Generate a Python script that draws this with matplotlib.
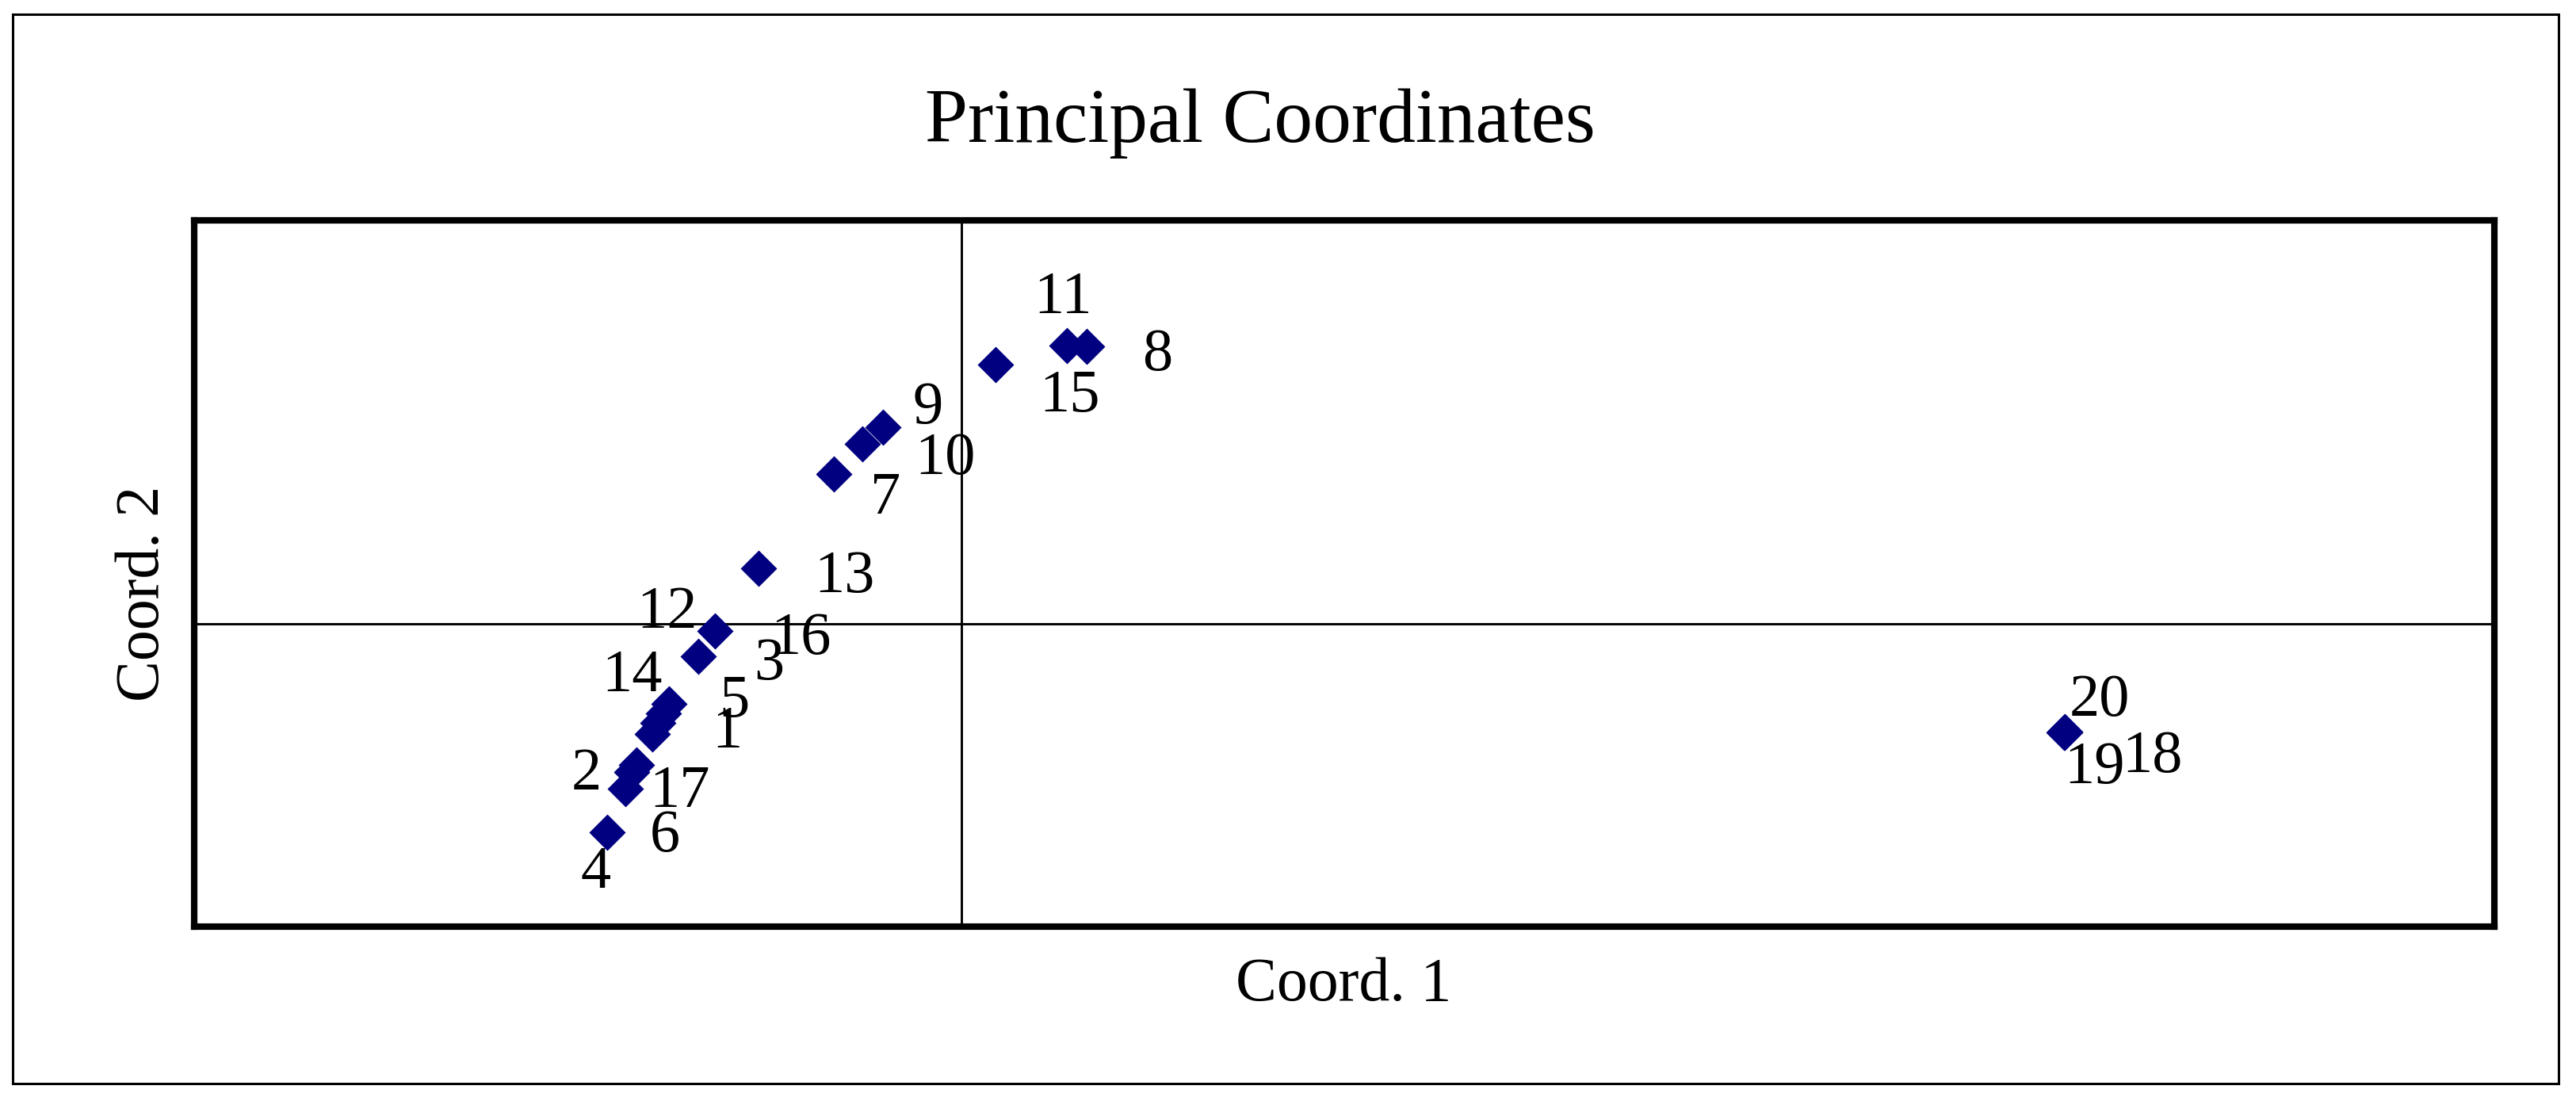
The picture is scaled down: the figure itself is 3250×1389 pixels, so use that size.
import matplotlib
matplotlib.use("Agg")
import matplotlib.pyplot as plt
from matplotlib.patches import Rectangle

# ---- data ----
labels = [str(i) for i in range(1, 21)]
coord1 = [-0.1531, -0.1637, -0.1325, -0.1785, -0.1501, -0.1661, -0.0644, 0.0632,
          -0.0394, -0.0498, 0.0532, -0.1244, -0.1022, -0.1473, 0.0172, -0.1557,
          -0.1693, 0.5569, 0.5567, 0.5571]
coord2 = [-0.0499, -0.0709, -0.0163, -0.1048, -0.0449, -0.0745, 0.0757, 0.1401,
          0.0995, 0.0911, 0.1404, -0.0036, 0.0280, -0.0403, 0.1311, -0.0556,
          -0.0829, -0.0545, -0.0546, -0.0543]
# label offsets (pixels) relative to each point
label_dx = [88, -63, 89, -15, 89, 42, 66, 90, 57, 104.5, -4, -60, 108.5, -47, 94, 187, 68, 111, 38, 44]
label_dy = [-31, -31, -29, -71, -4, -100, -50, -30, 5, -38, 41, 4, -30, 16, -59, 101, -23, -50, -64, 20]

title = "Principal Coordinates"
xlabel = "Coord. 1"
ylabel = "Coord. 2"

W, H, DPI = 3250, 1389, 100
FONT = "Liberation Serif"

fig = plt.figure(figsize=(W / DPI, H / DPI), dpi=DPI)
fig.patch.set_facecolor("white")

# outer frame
fig.patches.append(Rectangle((15.7 / W, 1 - 1366.7 / H), (3228.3 - 15.7) / W, (1366.7 - 18) / H,
                             transform=fig.transFigure, fill=False, lw=2.2, ec="black"))

L, R, T, B = 245.3, 3146.5, 278.3, 1169.3
ax = fig.add_axes([L / W, 1 - B / H, (R - L) / W, (B - T) / H])
s = 2500.0
ax.set_xlim((L - 1212.5) / s, (R - 1212.5) / s)
ax.set_ylim((787.5 - B) / s, (787.5 - T) / s)
ax.set_xticks([])
ax.set_yticks([])
for sp in ax.spines.values():
    sp.set_linewidth(5.9)
    sp.set_capstyle("projecting")

ax.axhline(0, color="black", lw=2.1, zorder=1)
ax.axvline(0, color="black", lw=2.1, zorder=1)

ax.plot(coord1, coord2, linestyle="none", marker="D", ms=23, mfc="#000080",
        mec="none", zorder=3)

for lab, x, y, dx, dy in zip(labels, coord1, coord2, label_dx, label_dy):
    ax.annotate(lab, (x, y), xytext=(dx, dy), textcoords="offset pixels",
                ha="center", va="baseline", fontsize=55, family=FONT, color="black",
                zorder=4, annotation_clip=False)

fig.text(1589.5 / W, 1 - 179 / H, title, ha="center", va="baseline",
         fontsize=70, family=FONT)
fig.text(1695 / W, 1 - 1262 / H, xlabel, ha="center", va="baseline",
         fontsize=56, family=FONT)
fig.text(200 / W, 1 - 749 / H, ylabel, ha="center", va="baseline", rotation=90,
         rotation_mode="anchor", fontsize=56, family=FONT)

fig.savefig("out.png", dpi=DPI, facecolor="white")
